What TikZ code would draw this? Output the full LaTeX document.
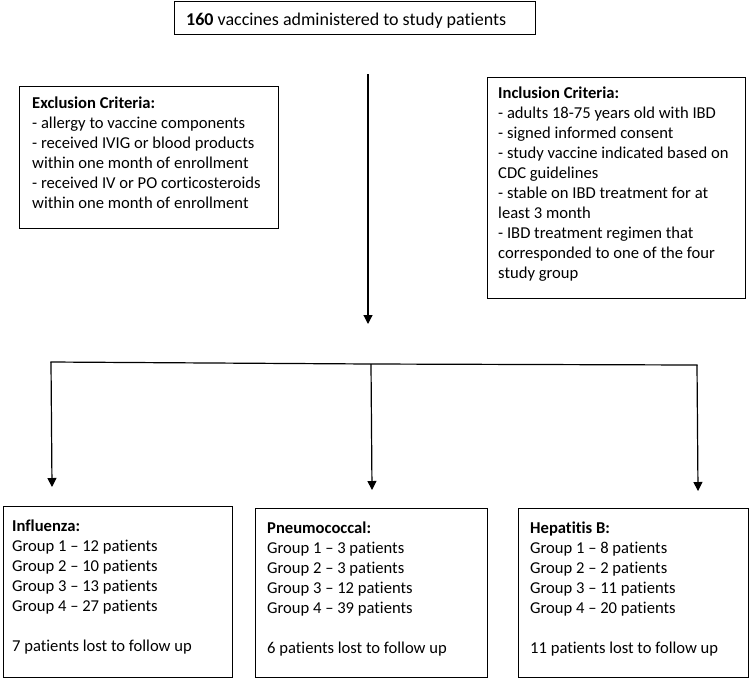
\documentclass[tikz,border=0pt]{standalone}
\usepackage{fontspec}
\setmainfont{Carlito}[Ligatures=NoCommon]
\usetikzlibrary{arrows.meta,calc}
\begin{document}
\begin{tikzpicture}[x=1pt,y=-1pt,
  box/.style={draw=black,line width=1.1pt,inner sep=0pt,anchor=north west},
  txt/.style={align=left,inner sep=0pt,anchor=base west,font=\fontsize{16.6}{20}\selectfont},
  conn/.style={line width=1.2pt,draw=black,line cap=rect},
  arr/.style={line width=1.2pt,draw=black,-{Triangle[width=9pt,length=9pt]}}]
\useasboundingbox (0,0) rectangle (751,678);
% boxes (text nodes anchored at the baseline of their last line)
\node[box,minimum width=361pt,minimum height=33pt] (top) at (174,1) {};
\node[txt,font=\fontsize{18}{22}\selectfont] (toptxt) at (186,25) {\textbf{160} vaccines administered to study patients};

\node[box,minimum width=259pt,minimum height=142pt] (excl) at (19,86) {};
\node[txt] (excltxt) at (32,208) {\textbf{Exclusion Criteria:}\\
- allergy to vaccine components\\
- received IVIG or blood products\\
within one month of enrollment\\
- received IV or PO corticosteroids\\
within one month of enrollment};

\node[box,minimum width=258pt,minimum height=221pt] (incl) at (487,77) {};
\node[txt] (incltxt) at (498,278) {\textbf{Inclusion Criteria:}\\
- adults 18-75 years old with IBD\\
- signed informed consent\\
- study vaccine indicated based on\\
CDC guidelines\\
- stable on IBD treatment for at\\
least 3 month\\
- IBD treatment regimen that\\
corresponded to one of the four\\
study group};

\node[box,minimum width=229pt,minimum height=171pt] (infl) at (3,506) {};
\node[txt] (infltxt) at (12,651) {\textbf{Influenza:}\\
Group 1 – 12 patients\\
Group 2 – 10 patients\\
Group 3 – 13 patients\\
Group 4 – 27 patients\\[20pt]
7 patients lost to follow up};

\node[box,minimum width=232pt,minimum height=169pt] (pneu) at (255,508) {};
\node[txt] (pneutxt) at (267,653) {\textbf{Pneumococcal:}\\
Group 1 – 3 patients\\
Group 2 – 3 patients\\
Group 3 – 12 patients\\
Group 4 – 39 patients\\[20pt]
6 patients lost to follow up};

\node[box,minimum width=230pt,minimum height=169pt] (hep) at (518,508) {};
\node[txt] (heptxt) at (530,653) {\textbf{Hepatitis B:}\\
Group 1 – 8 patients\\
Group 2 – 2 patients\\
Group 3 – 11 patients\\
Group 4 – 20 patients\\[20pt]
11 patients lost to follow up};

% connectors
\coordinate (s0) at (368,74);
\coordinate (s1) at (368,324);
\draw[arr] (s0) -- (s1);

\coordinate (hl) at (51,362);
\coordinate (hm) at (371,364);
\coordinate (hr) at (697,365);
\draw[conn] (hl) -- (hm) -- (hr);

\coordinate (el) at (52,487);
\coordinate (em) at (372,490);
\coordinate (er) at (698,491);
\draw[arr] (hl) -- (el);
\draw[arr] (hm) -- (em);
\draw[arr] (hr) -- (er);
\end{tikzpicture}
\end{document}
